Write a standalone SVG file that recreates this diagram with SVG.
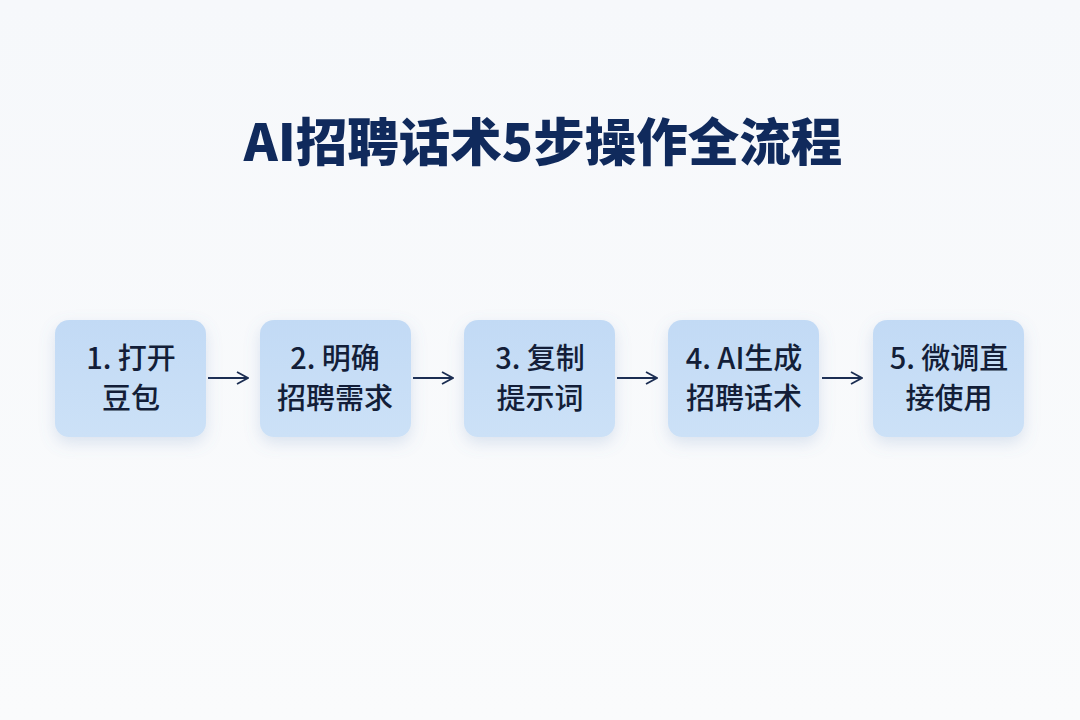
<svg xmlns="http://www.w3.org/2000/svg" width="1080" height="720" viewBox="0 0 1080 720">
<defs>
<linearGradient id="bg" x1="0" y1="0" x2="0" y2="1">
<stop offset="0" stop-color="#f6f8fb"/>
<stop offset="1" stop-color="#fafbfc"/>
</linearGradient>
<linearGradient id="boxg" x1="0" y1="0" x2="0" y2="1">
<stop offset="0" stop-color="#c2daf5"/>
<stop offset="1" stop-color="#cce1f7"/>
</linearGradient>
<filter id="sh" x="-30%" y="-30%" width="160%" height="170%">
<feDropShadow dx="0" dy="6" stdDeviation="8" flood-color="#6a8fc0" flood-opacity="0.22"/>
</filter>
<marker id="ah" viewBox="0 0 14 14" refX="13" refY="7" markerWidth="14" markerHeight="14" markerUnits="userSpaceOnUse" orient="auto">
<path d="M2,1 L13,7 L2,13" fill="none" stroke="#1b2d52" stroke-width="1.8"/>
</marker>
</defs>
<style>
.box{fill:url(#boxg);filter:url(#sh);}
.lbl{font-family:"Noto Sans CJK SC","Noto Sans",sans-serif;font-size:29px;font-weight:500;fill:#131e38;text-anchor:middle;}
.title{font-family:"Noto Sans CJK SC","Noto Sans",sans-serif;font-size:51.5px;font-weight:900;fill:#102a5c;text-anchor:middle;}
.conn{stroke:#1b2d52;stroke-width:1.8;fill:none;marker-end:url(#ah);}
</style>
<rect width="1080" height="720" fill="url(#bg)"/>
<text class="title" x="543" y="161">AI招聘话术5步操作全流程</text>
<g id="connectors">
<line class="conn" x1="208" y1="378" x2="248" y2="378"/>
<line class="conn" x1="413" y1="378" x2="453" y2="378"/>
<line class="conn" x1="617" y1="378" x2="657" y2="378"/>
<line class="conn" x1="822" y1="378" x2="862" y2="378"/>
</g>
<g id="step1">
<rect class="box" x="55" y="320" width="151" height="117" rx="14"/>
<text class="lbl" x="131" y="369">1. 打开</text>
<text class="lbl" x="131" y="409">豆包</text>
</g>
<g id="step2">
<rect class="box" x="260" y="320" width="151" height="117" rx="14"/>
<text class="lbl" x="335" y="369">2. 明确</text>
<text class="lbl" x="335" y="409">招聘需求</text>
</g>
<g id="step3">
<rect class="box" x="464" y="320" width="151" height="117" rx="14"/>
<text class="lbl" x="540" y="369">3. 复制</text>
<text class="lbl" x="540" y="409">提示词</text>
</g>
<g id="step4">
<rect class="box" x="668" y="320" width="151" height="117" rx="14"/>
<text class="lbl" x="744" y="369">4. AI生成</text>
<text class="lbl" x="744" y="409">招聘话术</text>
</g>
<g id="step5">
<rect class="box" x="873" y="320" width="151" height="117" rx="14"/>
<text class="lbl" x="949" y="369">5. 微调直</text>
<text class="lbl" x="949" y="409">接使用</text>
</g>
</svg>
